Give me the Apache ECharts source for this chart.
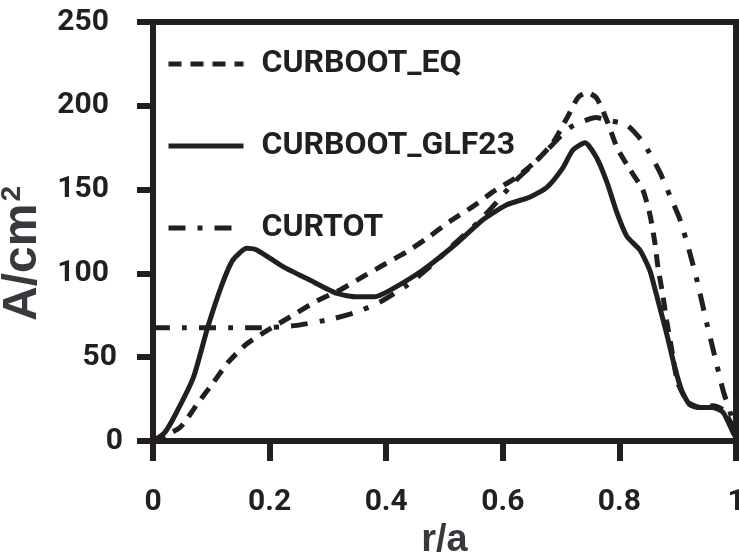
<!DOCTYPE html>
<html>
<head>
<meta charset="utf-8">
<script src="https://cdn.jsdelivr.net/npm/echarts@6/dist/echarts.min.js"></script>
<style>html,body{margin:0;padding:0;background:#fff;}#c{width:739px;height:556px;}</style>
</head>
<body>
<div id="c"></div>
<script>
var xTicks = [0, 0.2, 0.4, 0.6, 0.8, 1];
var yTicks = [0, 50, 100, 150, 200, 250];

var eqR = [0, 0.046, 0.077, 0.103, 0.129, 0.161, 0.196, 0.235, 0.278, 0.32, 0.355, 0.395, 0.436, 0.47, 0.509, 0.549, 0.583, 0.624, 0.659, 0.686, 0.71, 0.729, 0.744, 0.761, 0.78, 0.796, 0.818, 0.84, 0.853, 0.861, 0.866, 0.875, 0.881, 0.89, 0.9, 0.918, 0.94, 0.96, 0.98, 1];
var eqV = [0, 8, 22.6, 34.6, 47, 58, 66, 74, 83, 90, 97, 105, 113, 121, 131, 140, 148.6, 157.5, 167.6, 178, 192.7, 205, 208, 204.6, 190, 175, 162, 150, 134, 118, 104, 86, 72, 54, 35, 23, 20, 21, 18, 4];

var glfR = [0, 0.02, 0.038, 0.069, 0.094, 0.118, 0.137, 0.161, 0.178, 0.223, 0.269, 0.316, 0.35, 0.38, 0.407, 0.463, 0.521, 0.566, 0.607, 0.647, 0.676, 0.703, 0.72, 0.741, 0.761, 0.779, 0.796, 0.813, 0.835, 0.852, 0.866, 0.881, 0.895, 0.907, 0.921, 0.938, 0.96, 0.978, 0.995, 1];
var glfV = [0, 5, 15.5, 37.6, 68, 93, 108, 115, 114, 104, 96, 88, 86, 86, 90, 102, 118, 132, 141, 145.6, 151.5, 163, 173.6, 178, 169, 154, 136, 122, 114, 102, 84, 64, 44, 30, 21.5, 20, 20, 17, 5, 2];

var totR = [0, 0.184, 0.247, 0.309, 0.35, 0.39, 0.436, 0.475, 0.515, 0.556, 0.583, 0.618, 0.647, 0.68, 0.715, 0.76, 0.779, 0.813, 0.841, 0.87, 0.887, 0.904, 0.921, 0.933, 0.95, 0.964, 0.978, 0.99, 1];
var totV = [67.5, 67.5, 69, 73, 77, 83, 93, 104, 117, 130, 140, 154, 163.5, 175, 187, 193, 191.5, 188.5, 178, 160, 146, 132, 112, 96, 70, 50, 30, 17, 5];

var names = ['CURBOOT_EQ', 'CURBOOT_GLF23', 'CURTOT'];

function zip(a, b) { return a.map(function (x, i) { return [x, b[i]]; }); }

var INK = '#231f20';
var NARROW = 'Roboto, "Liberation Sans", sans-serif';
var BOLD = '"Liberation Sans", Arial, sans-serif';
var tickFont = { fontSize: 30, fontWeight: 'bold', fontFamily: NARROW, color: INK };

var chart = echarts.init(document.getElementById('c'), null, { renderer: 'canvas' });
chart.setOption({
  animation: false,
  backgroundColor: '#fff',
  grid: { left: 153, right: 3, top: 22, bottom: 115, show: true, borderColor: INK, borderWidth: 6,
    containLabel: false, outerBoundsMode: 'none' },
  legend: {
    orient: 'vertical', left: 161, top: 43,
    itemWidth: 75, itemHeight: 30, itemGap: 50,
    data: names,
    itemStyle: { opacity: 0, borderWidth: 0 },
    lineStyle: { width: 5 },
    textStyle: { fontSize: 32, fontWeight: 'bold', fontFamily: NARROW, color: INK, padding: [0, 0, 0, 13] }
  },
  xAxis: {
    type: 'value', min: 0, max: 1, interval: 0.2,
    name: 'r/a', nameLocation: 'middle', nameGap: 76,
    nameTextStyle: { fontSize: 38, fontWeight: 'bold', fontFamily: BOLD, color: '#38383f' },
    axisLine: { lineStyle: { color: INK, width: 6 } },
    axisTick: { show: true, length: 20, lineStyle: { color: INK, width: 6 } },
    axisLabel: Object.assign({ margin: 46,
      formatter: function (v) { return String(+v.toFixed(1)); } }, tickFont),
    splitLine: { show: false }
  },
  yAxis: {
    type: 'value', min: 0, max: 250, interval: 50,
    name: 'A/cm{s|2}', nameLocation: 'middle', nameGap: 100,
    nameTextStyle: { fontSize: 48, fontWeight: 'bold', fontFamily: BOLD, color: '#38383f', padding: [0, 44, 0, 0],
      rich: { s: { fontSize: 28, fontWeight: 'bold', fontFamily: BOLD, color: '#38383f', verticalAlign: 'top', padding: [0, 0, 18, 2] } } },
    axisLine: { lineStyle: { color: INK, width: 6 } },
    axisTick: { show: true, length: 16, lineStyle: { color: INK, width: 6 } },
    axisLabel: Object.assign({ margin: 30,
      formatter: function (v) { return v >= 100 ? '{w|' + v + '}' : (v > 0 ? '{m|' + v + '}' : '{n|' + v + '}'); },
      rich: {
        w: Object.assign({ padding: [0, 14, 0, 0] }, tickFont),
        m: Object.assign({ padding: [0, 6, 0, 0] }, tickFont),
        n: Object.assign({ padding: [0, 0, 0, 0] }, tickFont)
      } }, tickFont),
    splitLine: { show: false }
  },
  series: [
    { name: names[0], type: 'line', data: zip(eqR, eqV), showSymbol: false, symbol: 'none', smooth: 0.2,
      lineStyle: { color: INK, width: 5, type: [13, 9], cap: 'butt' }, itemStyle: { color: INK } },
    { name: names[1], type: 'line', data: zip(glfR, glfV), showSymbol: false, symbol: 'none', smooth: 0.2,
      lineStyle: { color: INK, width: 5, type: 'solid', join: 'round' }, itemStyle: { color: INK } },
    { name: names[2], type: 'line', data: zip(totR, totV), showSymbol: false, symbol: 'none', smooth: 0.2,
      lineStyle: { color: INK, width: 5, type: [17, 12, 5, 12], cap: 'butt' }, itemStyle: { color: INK } }
  ]
});
</script>
</body>
</html>
